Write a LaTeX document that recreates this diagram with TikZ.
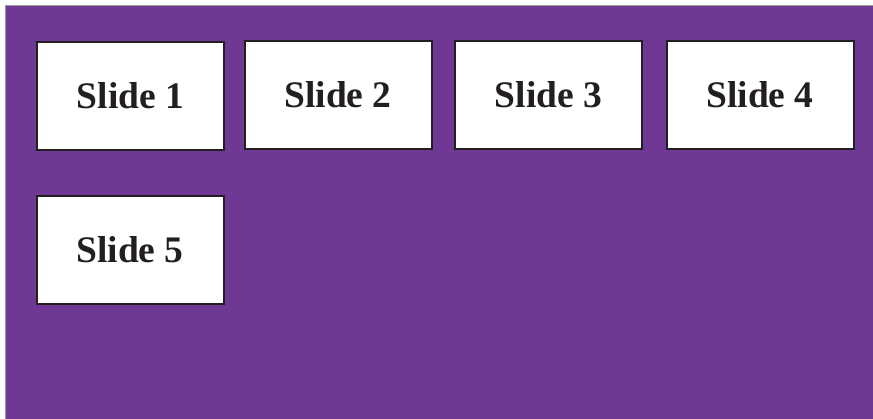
\documentclass[tikz,border=0pt]{standalone}
\usepackage{fontspec}
\setmainfont{Liberation Serif}
\definecolor{bgpurple}{RGB}{110,56,148}
\definecolor{inkdark}{RGB}{35,31,32}
\begin{document}
\begin{tikzpicture}[x=1pt,y=-1pt,
  slidebox/.style={draw=inkdark, line width=2pt, fill=white, minimum width=187pt, minimum height=108pt, inner sep=0pt, text=inkdark, font=\bfseries\fontsize{37.5}{42}\selectfont}]
\useasboundingbox (0,0) rectangle (873,418);
\fill[white] (0,0) rectangle (873,418);
\draw[fill=bgpurple, draw=gray!80, line width=1pt] (5.5,5.5) rectangle (875,420);
\node[slidebox] (s1) at (130.5,95.5) {Slide 1};
\node[slidebox] (s2) at (338,95) {Slide 2};
\node[slidebox] (s3) at (548.5,95) {Slide 3};
\node[slidebox] (s4) at (760,95) {Slide 4};
\node[slidebox] (s5) at (130,250) {Slide 5};
\end{tikzpicture}
\end{document}
